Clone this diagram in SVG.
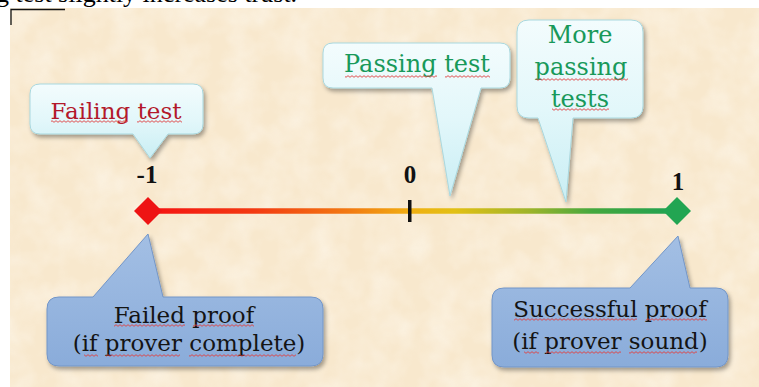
<svg xmlns="http://www.w3.org/2000/svg" width="759" height="387" viewBox="0 0 759 387">
<style>
.serif{font-family:"DejaVu Serif","Liberation Serif",serif;font-size:23px;text-anchor:middle}
.red{fill:#B3192B}
.green{fill:#18995A}
.dark{fill:#141414}
.num{font-family:"Liberation Serif",serif;font-weight:bold;font-size:25px;text-anchor:middle;fill:#111}
.sq{fill:url(#squiggle)}
.cyan{fill:url(#cyanGrad);stroke:#A9D8DF;stroke-width:1;filter:url(#shadow)}
.blue{fill:url(#blueGrad);stroke:#7396C8;stroke-width:1;filter:url(#shadow)}
</style>
<defs>
<pattern id="squiggle" patternUnits="userSpaceOnUse" x="0" y="0" width="4" height="3">
<path d="M0,0.7 L2,2.3 L4,0.7" fill="none" stroke="#E04040" stroke-width="0.9"/>
</pattern>
<linearGradient id="cyanGrad" x1="0" y1="0" x2="0" y2="1">
<stop offset="0" stop-color="#F3FCFD"/>
<stop offset="0.5" stop-color="#E2F7FA"/>
<stop offset="1" stop-color="#C9EEF4"/>
</linearGradient>
<linearGradient id="blueGrad" x1="0" y1="0" x2="0" y2="1">
<stop offset="0" stop-color="#A3BFE4"/>
<stop offset="1" stop-color="#8AACDA"/>
</linearGradient>
<linearGradient id="axisGrad" gradientUnits="userSpaceOnUse" x1="148" y1="0" x2="677" y2="0">
<stop offset="0" stop-color="#F51212"/>
<stop offset="0.2" stop-color="#F33A12"/>
<stop offset="0.38" stop-color="#F27A12"/>
<stop offset="0.5" stop-color="#F0B012"/>
<stop offset="0.58" stop-color="#E2C014"/>
<stop offset="0.72" stop-color="#9EB42A"/>
<stop offset="0.84" stop-color="#44A83E"/>
<stop offset="1" stop-color="#1FA152"/>
</linearGradient>
<filter id="shadow" x="-10%" y="-10%" width="130%" height="140%">
<feDropShadow dx="2" dy="3" stdDeviation="2" flood-color="#000" flood-opacity="0.35"/>
</filter>
<filter id="paper" x="0" y="0" width="100%" height="100%">
<feTurbulence type="fractalNoise" baseFrequency="0.035" numOctaves="3" seed="4" result="n"/>
<feColorMatrix in="n" type="matrix" values="0 0 0 0 1  0 0 0 0 0.975  0 0 0 0 0.92  0 0 0 -1.4 0.95"/>
</filter>
</defs>

<rect x="0" y="0" width="759" height="387" fill="#FFFFFF"/>
<text x="-4" y="2" font-family="Liberation Serif, serif" font-size="26" fill="#000">g test slightly increases trust.</text>

<g id="background">
<rect x="10" y="8" width="749" height="379" fill="#F8E8CD"/>
<rect x="10" y="8" width="749" height="379" filter="url(#paper)" opacity="0.55"/>
<path d="M11,25 V9.5 H65" fill="none" stroke="#111" stroke-width="1.3"/>
</g>

<g id="axis">
<line x1="148" y1="211" x2="677" y2="211" stroke="url(#axisGrad)" stroke-width="5.5"/>
<rect x="408" y="200" width="3.5" height="22" fill="#111"/>
<text class="num" x="147" y="183">-1</text>
<text class="num" x="410" y="183">0</text>
<text class="num" x="678" y="190">1</text>
</g>

<g id="node-minus1">
<polygon points="148,197 162,211 148,225 134,211" fill="#EE1414"/>
</g>
<g id="node-plus1">
<polygon points="677,197 691,211 677,225 663,211" fill="#22A552"/>
</g>

<g id="callout-failing-test">
<path class="cyan" d="M40,84 H193 Q203,84 203,94 V124 Q203,134 193,134 H168 L150,158 L133,134 H40 Q30,134 30,124 V94 Q30,84 40,84 Z"/>
<text class="serif red" x="116" y="119">Failing test</text>
<rect class="sq" x="51" y="120" width="77" height="3"/>
<rect class="sq" x="137" y="120" width="45" height="3"/>
</g>

<g id="callout-passing-test">
<path class="cyan" d="M333,43 H500 Q510,43 510,53 V78 Q510,88 500,88 H481 L450,196 L432,88 H333 Q323,88 323,78 V53 Q323,43 333,43 Z"/>
<text class="serif green" x="417" y="72" style="font-size:24px">Passing test</text>
<rect class="sq" x="345" y="75" width="92" height="3"/>
<rect class="sq" x="445" y="75" width="45" height="3"/>
</g>

<g id="callout-more-passing">
<path class="cyan" d="M529,20 H631 Q643,20 643,32 V106 Q643,118 631,118 H573 L566,202 L538,118 H529 Q517,118 517,106 V32 Q517,20 529,20 Z"/>
<text class="serif green" x="580" y="43" style="font-size:24px">More</text>
<text class="serif green" x="581" y="75" style="font-size:24px">passing</text>
<text class="serif green" x="580" y="107" style="font-size:24px">tests</text>
<rect class="sq" x="536" y="78" width="92" height="3"/>
<rect class="sq" x="552" y="108" width="57" height="3"/>
</g>

<g id="callout-failed-proof">
<path class="blue" d="M59,297 H93 L148,234 L163,297 H311 Q323,297 323,309 V354 Q323,366 311,366 H59 Q47,366 47,354 V309 Q47,297 59,297 Z"/>
<text class="serif dark" x="184" y="323">Failed proof</text>
<text class="serif dark" x="189" y="351">(if prover complete)</text>
<rect class="sq" x="114" y="324" width="71" height="3"/>
<rect class="sq" x="193" y="324" width="61" height="3"/>
<rect class="sq" x="84" y="354" width="14" height="3"/>
<rect class="sq" x="106" y="354" width="74" height="3"/>
<rect class="sq" x="189" y="354" width="107" height="3"/>
</g>

<g id="callout-successful-proof">
<path class="blue" d="M504,288 H630 L678,236 L690,288 H716 Q728,288 728,300 V355 Q728,367 716,367 H504 Q492,367 492,355 V300 Q492,288 504,288 Z"/>
<text class="serif dark" x="610" y="317">Successful proof</text>
<text class="serif dark" x="610" y="349">(if prover sound)</text>
<rect class="sq" x="514" y="318" width="123" height="3"/>
<rect class="sq" x="646" y="318" width="61" height="3"/>
<rect class="sq" x="524" y="351" width="15" height="3"/>
<rect class="sq" x="546" y="351" width="75" height="3"/>
<rect class="sq" x="629" y="351" width="68" height="3"/>
</g>
</svg>
